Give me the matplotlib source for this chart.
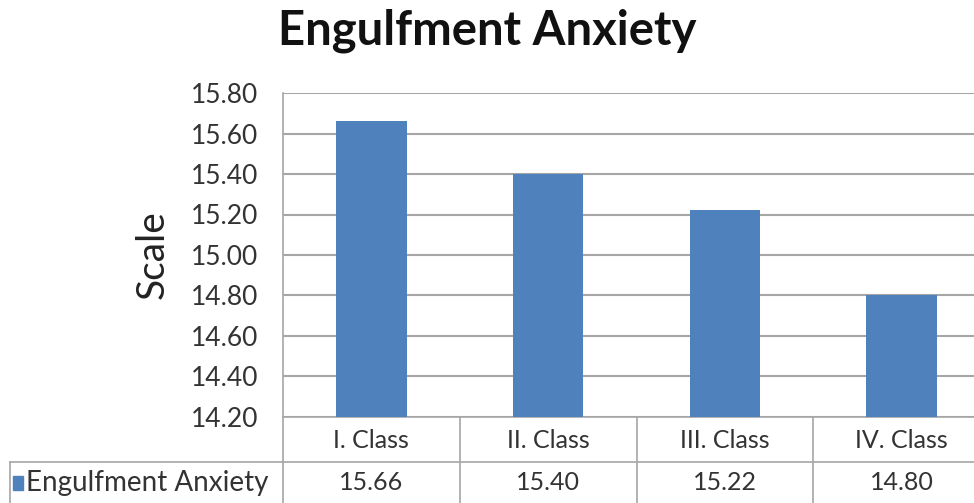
import matplotlib.pyplot as plt
from matplotlib.transforms import blended_transform_factory

categories = ['I. Class', 'II. Class', 'III. Class', 'IV. Class']
values = [15.66, 15.40, 15.22, 14.80]
value_labels = ['15.66', '15.40', '15.22', '14.80']
series_name = 'Engulfment Anxiety'
y_ticks = [14.20, 14.40, 14.60, 14.80, 15.00, 15.20, 15.40, 15.60, 15.80]

plt.rcParams['font.family'] = ['Lato', 'DejaVu Sans']

W, H = 974, 503
fig = plt.figure(figsize=(W / 100, H / 100), dpi=100)

# plot area in pixel coords (runs off the right edge like the source)
left, right, top, bottom = 283, 990, 93, 417
ax = fig.add_axes([left / W, 1 - bottom / H, (right - left) / W, (bottom - top) / H])

x = list(range(len(categories)))
ax.bar(x, [v - y_ticks[0] for v in values], bottom=y_ticks[0], width=0.4,
       color='#4F81BD', zorder=3)

ax.set_xlim(-0.5, 3.5)
ax.set_ylim(y_ticks[0], y_ticks[-1])
ax.set_yticks(y_ticks)
ax.set_yticklabels([f'{t:.2f}' for t in y_ticks], fontsize=19, color='#333333')
ax.set_xticks([])
ax.tick_params(axis='y', length=0, pad=18)
ax.yaxis.grid(True, color='#A6A6A6', linewidth=1.5, zorder=0)
for s in ['top', 'right', 'bottom']:
    ax.spines[s].set_visible(False)
ax.spines['left'].set_color('#A6A6A6')
ax.spines['left'].set_linewidth(1.2)

ax.set_ylabel('Scale', fontsize=28, color='#222222', labelpad=14)

fig.text(0.5, 1 - 31 / H, 'Engulfment Anxiety', ha='center', va='center',
         fontsize=34, fontweight='bold', color='#111111')

# data table underneath the axis
tr = blended_transform_factory(ax.transData, ax.transAxes)
ax_h = bottom - top
def yax(py):
    return (bottom - py) / ax_h

row_line = yax(462)
tbl_bottom = yax(505)
line_kw = dict(color='#A6A6A6', linewidth=1.2, clip_on=False)
for b in [-0.5, 0.5, 1.5, 2.5, 3.5]:
    ax.plot([b, b], [0, tbl_bottom], transform=tr, **line_kw)
ax.plot([-0.5, 3.5], [row_line, row_line], transform=tr, **line_kw)
ax.plot([-0.5, 3.5], [0, 0], transform=tr, **line_kw)

# left header cell of the table in pixel coords
fx = lambda px: px / W
fy = lambda py: 1 - py / H
fig.add_artist(plt.Line2D([fx(10), fx(left)], [fy(462), fy(462)], color='#A6A6A6', linewidth=1.2))
fig.add_artist(plt.Line2D([fx(10), fx(10)], [fy(462), fy(505)], color='#A6A6A6', linewidth=1.2))
fig.add_artist(plt.Rectangle((fx(13), fy(490)), 10 / W, 14 / H, color='#4F81BD'))
fig.text(fx(26), fy(483), series_name, ha='left', va='center', fontsize=20, color='#333333')

for i, (c, v) in enumerate(zip(categories, value_labels)):
    ax.text(i, yax(440), c, transform=tr, ha='center', va='center', fontsize=18, color='#333333')
    ax.text(i, yax(483), v, transform=tr, ha='center', va='center', fontsize=18, color='#333333')

fig.savefig('out.png', dpi=100)
